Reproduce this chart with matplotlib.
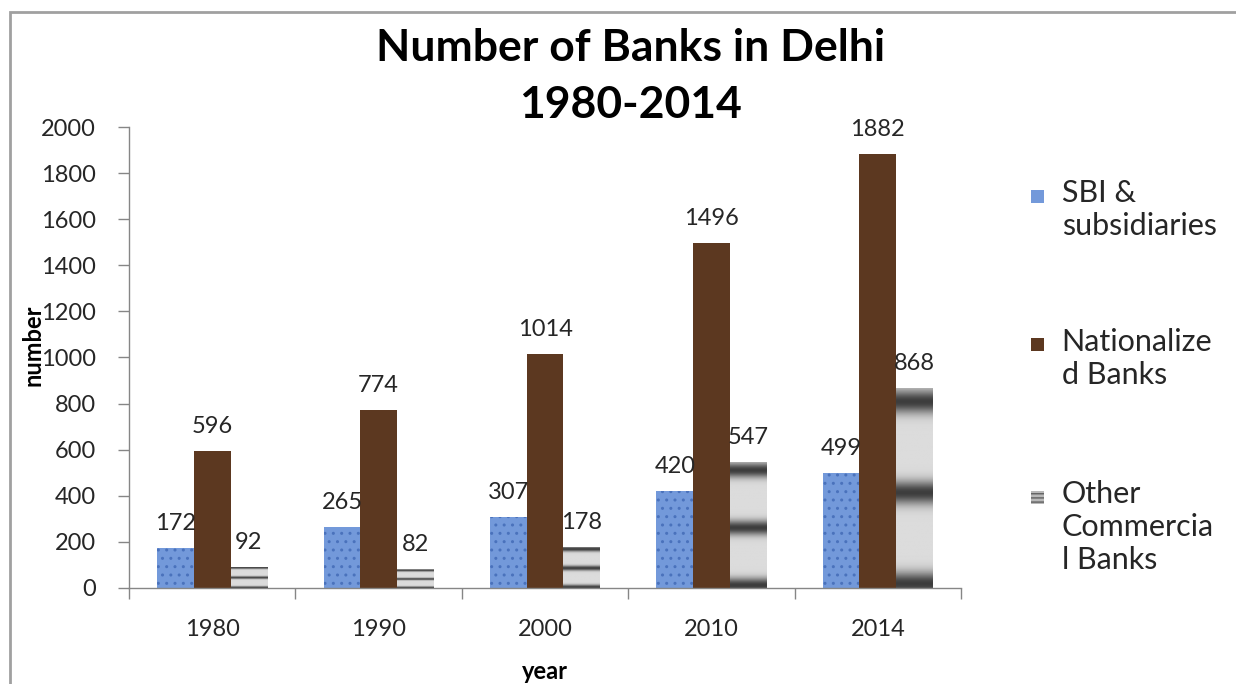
import matplotlib
matplotlib.use("Agg")
import matplotlib.pyplot as plt
from matplotlib.patches import Rectangle
import numpy as np

plt.rcParams['font.family'] = ['Lato', 'DejaVu Sans']

years = ['1980', '1990', '2000', '2010', '2014']
sbi = [172, 265, 307, 420, 499]
nationalized = [596, 774, 1014, 1496, 1882]
other_commercial = [92, 82, 178, 547, 868]
series_names = ['SBI &\nsubsidiaries', 'Nationalize\nd Banks', 'Other\nCommercia\nl Banks']

blue = '#7399da'
brown = '#5c3820'
axis_gray = '#868686'

fig = plt.figure(figsize=(12.36, 6.84), dpi=100)
ax = fig.add_axes([0.1044, 0.1404, 0.6731, 0.6739])

x = np.arange(len(years))
w = 0.22

b1 = ax.bar(x - w, sbi, w, color=blue, edgecolor='#4a72bc', linewidth=0, hatch='..')
b2 = ax.bar(x, nationalized, w, color=brown, linewidth=0)
b3 = ax.bar(x + w, other_commercial, w, color='#d8d8d8', linewidth=0)

# striped gray texture for the "other" bars (light with darker bands)
t = np.linspace(0, 1, 300)
prof = 0.86 - 0.62 * (0.5 + 0.5 * np.cos(2 * np.pi * 2.2 * (t - 0.02))) ** 6
grad = prof[::-1].reshape(-1, 1)
for r in b3:
    x0, y0 = r.get_x(), r.get_y()
    im = ax.imshow(grad, cmap='gray', vmin=0, vmax=1, aspect='auto',
                   extent=[x0, x0 + r.get_width(), y0, y0 + r.get_height()],
                   zorder=2, interpolation='bilinear')
    im.set_clip_path(r)

ax.set_xlim(-0.5, len(years) - 0.5)
ax.set_ylim(0, 2000)
ax.set_yticks(range(0, 2001, 200))
ax.set_xticks(x)
ax.set_xticklabels(years)
ax.set_xticks(np.arange(-0.5, len(years), 1), minor=True)
ax.tick_params(axis='x', which='major', length=0, pad=22, labelsize=17, labelcolor='#262626')
ax.tick_params(axis='x', which='minor', length=8, color=axis_gray, width=1)
ax.tick_params(axis='y', length=8, color=axis_gray, width=1, pad=16, labelsize=17, labelcolor='#262626')

for s in ['top', 'right']:
    ax.spines[s].set_visible(False)
for s in ['left', 'bottom']:
    ax.spines[s].set_color(axis_gray)
    ax.spines[s].set_linewidth(1)

for bars, vals in [(b1, sbi), (b2, nationalized), (b3, other_commercial)]:
    for r, v in zip(bars, vals):
        ax.annotate(str(v), (r.get_x() + r.get_width() / 2, v), xytext=(0, 10),
                    textcoords='offset points', ha='center', va='bottom',
                    fontsize=17, color='#262626', zorder=5)

ax.set_xlabel('year', fontsize=17, fontweight='bold')
ax.set_ylabel('number', fontsize=17, fontweight='bold')
ax.yaxis.set_label_coords(-0.102, 0.527)
ax.xaxis.set_label_coords(0.5, -0.157)

# title, two lines
fig.text(0.51, 0.930, 'Number of Banks in Delhi', ha='center', va='center',
         fontsize=32, fontweight='bold')
fig.text(0.51, 0.847, '1980-2014', ha='center', va='center',
         fontsize=32, fontweight='bold')

# legend drawn by hand, Excel style (marker beside first line)
leg_colors = [blue, brown, '#b8b8b8']
leg_text_top = [0.738, 0.520, 0.298]
leg_marker_y = [0.712, 0.496, 0.273]
for i, name in enumerate(series_names):
    striped = i == 2
    fig.patches.append(Rectangle((0.8345, leg_marker_y[i] - 0.0095), 0.0105, 0.019,
                                 transform=fig.transFigure, facecolor=leg_colors[i],
                                 edgecolor='#606060' if striped else leg_colors[i],
                                 hatch='----' if striped else None, linewidth=0))
    fig.text(0.859, leg_text_top[i], name, ha='left', va='top', fontsize=22, color='#262626',
             linespacing=1.22)

# outer chart frame
fig.patches.append(Rectangle((0.008, -0.1), 1.1, 1.083, transform=fig.transFigure,
                             fill=False, edgecolor='#a0a0a0', linewidth=2))

fig.savefig('out.png', dpi=100)
